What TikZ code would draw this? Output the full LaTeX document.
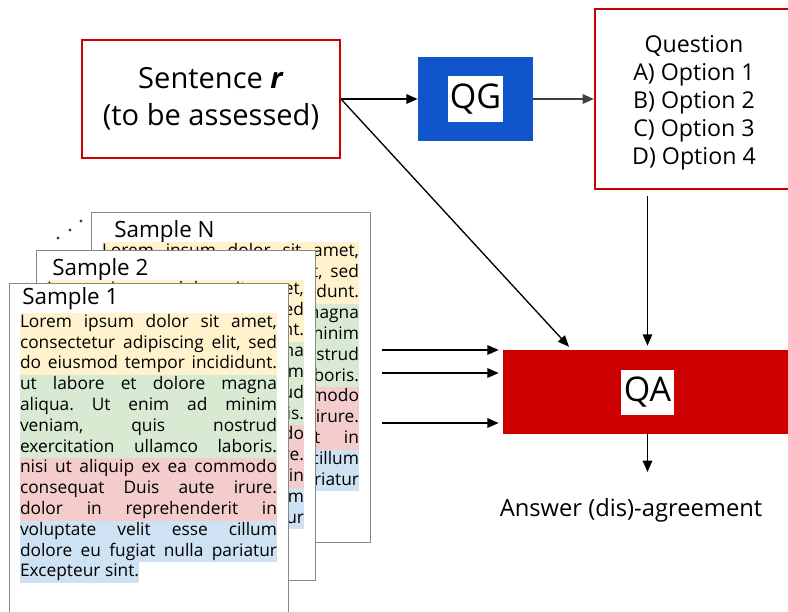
\documentclass[tikz,border=0pt]{standalone}
\usepackage{fontspec}
\setmainfont{Open Sans}
\usetikzlibrary{arrows.meta,calc}
\frenchspacing

\definecolor{boxred}{HTML}{CC0000}
\definecolor{qgblue}{HTML}{1155CC}
\definecolor{cardgray}{HTML}{8C8883}
\definecolor{hlY}{HTML}{FFF2CC}
\definecolor{hlG}{HTML}{D9EAD3}
\definecolor{hlR}{HTML}{F4CCCC}
\definecolor{hlB}{HTML}{CFE2F3}

\tikzset{
  redbox/.style={draw=boxred, line width=1.5pt, fill=white, align=center, inner sep=0pt},
  label/.style={fill=white, inner sep=0pt, text=black},
  card/.style={draw=cardgray, line width=1.1pt, fill=white, anchor=north west,
    minimum width=209.25pt, minimum height=247.5pt, inner sep=0pt},
  cardtitle/.style={anchor=west, inner sep=0pt, font=\fontsize{16.8}{18}\selectfont},
  cardrow/.style={anchor=base west, inner sep=0pt, outer sep=0pt,
    text height=11pt, text depth=4.6pt, font=\fontsize{13}{15.6}\selectfont},
  arr/.style={-{Triangle[length=8.5pt,width=7pt]}, line width=1.4pt},
  thinarr/.style={-{Triangle[length=8.5pt,width=7pt]}, line width=1pt},
}

% one justified, highlighted row of a sample card
\newcommand\cardline[4]{%
  \node[cardrow, fill=#3] (#1-#2) at (11,{44.3+#2*20.8}) {\makebox[192.75pt][s]{#4}};}

% a sample card: #1 name, #2/#3 top-left corner, #4 title, #5/#6 title offset
\newcommand\samplecard[6]{%
  \begin{scope}[shift={(#2,#3)}]
    \node[card] (#1) at (0,0) {};
    \node[cardtitle] (#1-title) at (#5,#6) {#4};
    \cardline{#1}{0}{hlY}{Lorem ipsum dolor sit amet,}
    \cardline{#1}{1}{hlY}{consectetur adipiscing elit, sed}
    \cardline{#1}{2}{hlY}{do eiusmod tempor incididunt.}
    \cardline{#1}{3}{hlG}{ut labore et dolore magna}
    \cardline{#1}{4}{hlG}{aliqua. Ut enim ad minim}
    \cardline{#1}{5}{hlG}{veniam, quis nostrud}
    \cardline{#1}{6}{hlG}{exercitation ullamco laboris.}
    \cardline{#1}{7}{hlR}{nisi ut aliquip ex ea commodo}
    \cardline{#1}{8}{hlR}{consequat Duis aute irure.}
    \cardline{#1}{9}{hlR}{dolor in reprehenderit in}
    \cardline{#1}{10}{hlB}{voluptate velit esse cillum}
    \cardline{#1}{11}{hlB}{dolore eu fugiat nulla pariatur}
    \node[cardrow, fill=hlB] (#1-12) at (11,{44.3+12*20.8}) {Excepteur sint.};
  \end{scope}}

\begin{document}
\begin{tikzpicture}[x=0.75pt, y=-0.75pt]
  \useasboundingbox (0,0) rectangle (788,611);
  \clip (0,0) rectangle (788,611);
  \fill[white] (0,0) rectangle (788,611);

  % stack of samples
  \fill[black!75] (58,238) circle[radius=1.3pt] (70,230) circle[radius=1.3pt] (81,221) circle[radius=1.3pt];
  \samplecard{sN}{91}{212}{Sample N}{23}{20}
  \samplecard{s2}{36}{250}{Sample 2}{16}{20}
  \samplecard{s1}{9}{283}{Sample 1}{13}{16}

  % main blocks
  \node[redbox, minimum width=193.5pt, minimum height=88.5pt,
        font=\fontsize{21.8}{27.75}\selectfont] (sent) at (211,99)
        {Sentence \textbf{\textit{r}}\\(to be assessed)};
  \node[fill=qgblue, minimum width=86.25pt, minimum height=63pt, inner sep=0pt] (qg) at (475.5,99) {};
  \node[label, minimum width=41pt, minimum height=34pt, font=\fontsize{25.5}{26}\selectfont] (qgl) at (qg) {QG};
  \node[redbox, minimum width=148.5pt, minimum height=135pt] (q) at (694,99) {};
  \node[align=center, inner sep=0pt, font=\fontsize{17.4}{21}\selectfont] (qtxt) at (694,103)
        {Question\\A) Option 1\\B) Option 2\\C) Option 3\\D) Option 4};
  \node[fill=boxred, minimum width=216.75pt, minimum height=63pt, inner sep=0pt] (qa) at (647.5,392) {};
  \node[label, minimum width=39.75pt, minimum height=33.75pt, font=\fontsize{25.5}{26}\selectfont] (qal) at (qa) {QA};
  \node[inner sep=0pt, font=\fontsize{17.8}{20}\selectfont] (ans) at (631,510) {Answer (dis)-agreement};

  % connectors
  \draw[arr] (sent.east) -- (qg.west);
  \draw[arr, draw=black!75] (qg.east) -- (q.west);
  \draw[thinarr, shorten >=3pt] (sent.east) -- ($(qa.north west)+(69,0)$);
  \draw[arr, shorten <=4.5pt, shorten >=3pt] (q.south -| qa.north) -- (qa.north);
  \coordinate (aout) at (647.5,472);
  \draw[arr] (qa.south) -- (aout);
  \coordinate (in1) at (382,350);
  \coordinate (in2) at (382,373);
  \coordinate (in3) at (382,423);
  \draw[arr, shorten >=3pt] (in1) -- (qa.west |- in1);
  \draw[arr, shorten >=3pt] (in2) -- (qa.west |- in2);
  \draw[arr, shorten >=3pt] (in3) -- (qa.west |- in3);
\end{tikzpicture}
\end{document}
